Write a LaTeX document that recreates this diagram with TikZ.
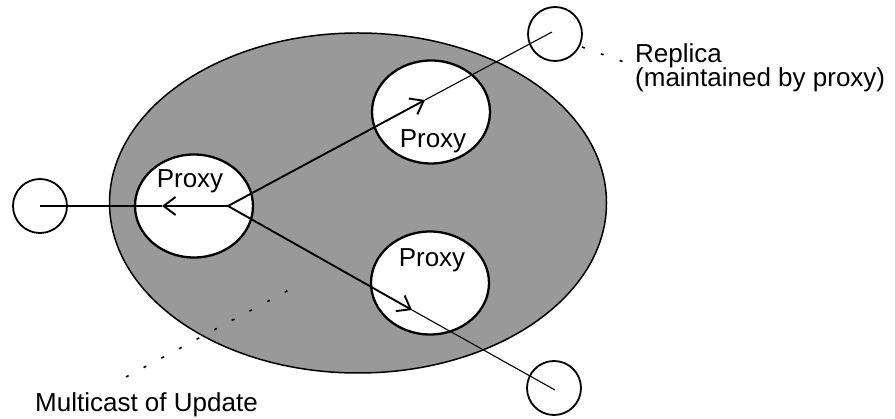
\documentclass[tikz,border=0pt]{standalone}
\usepackage{fontspec}
\setmainfont{Liberation Sans}
\usetikzlibrary{arrows.meta,shapes.geometric}
\begin{document}
\begin{tikzpicture}[x=1pt,y=-1pt,
  lbl/.style={inner sep=0pt,font=\fontsize{26}{22}\selectfont},
  proxy/.style={draw=black,line width=2.3pt,fill=white,ellipse,minimum width=118pt,minimum height=103pt,inner sep=0pt},
  replica/.style={draw=black,line width=1.8pt,circle,minimum size=54pt,inner sep=0pt},
  heavy/.style={line width=1.9pt,-{Straight Barb[length=12pt,width=18pt]}},
  light/.style={line width=1.1pt},
  leader/.style={line width=1.6pt,dash pattern=on 3pt off 17pt}]
\useasboundingbox (0,0) rectangle (895,419);
% group ellipse
\node[draw=black,line width=1.5pt,fill=black!40,ellipse,minimum width=497pt,minimum height=340pt,inner sep=0pt] (grp) at (358,203) {};
% proxies
\node[proxy] (p1) at (194,206) {};
\node[proxy] (p2) at (431,112) {};
\node[proxy] (p3) at (430,283) {};
% replicas
\node[replica] (r1) at (40,206) {};
\node[replica] (r2) at (555,34) {};
\node[replica] (r3) at (554,388) {};
% hub and arrow points
\coordinate (hub) at (228,206);
\coordinate (a1) at (162,206);
\coordinate (a2) at (425,100);
\coordinate (a3) at (412,310);
\coordinate (e2) at (552,32);
\coordinate (e3) at (555,390);
\draw[heavy] (hub) -- (a1);
\draw[light] (a1) -- (r1.center);
\draw[heavy] (hub) -- (a2);
\draw[light] (a2) -- (e2);
\draw[heavy] (hub) -- (a3);
\draw[light] (a3) -- (e3);
% labels
\node[lbl,anchor=base] (t1) at (190,188) {Proxy};
\node[lbl,anchor=base] (t2) at (433,148) {Proxy};
\node[lbl,anchor=base] (t3) at (432,267) {Proxy};
\node[lbl,anchor=base west] (rep) at (635,63) {Replica};
\node[lbl,anchor=base west] (rep2) at (635,87) {(maintained by proxy)};
\node[lbl,anchor=base west] (mc) at (35,412) {Multicast of Update};
% leaders
\coordinate (l1a) at (582,47);
\coordinate (l1b) at (624,62);
\draw[leader] (l1a) -- (l1b);
\coordinate (l2a) at (126,377);
\coordinate (l2b) at (302,283);
\draw[leader] (l2a) -- (l2b);
\end{tikzpicture}
\end{document}
